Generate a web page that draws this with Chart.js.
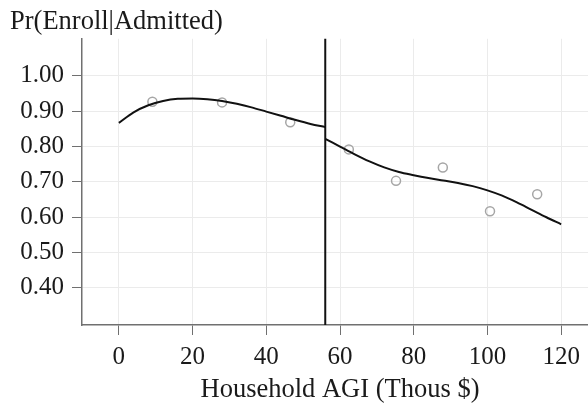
<!DOCTYPE html>
<html>
<head>
<meta charset="utf-8">
<script src="https://cdn.jsdelivr.net/npm/chart.js@4/dist/chart.umd.min.js"></script>
<style>
  html, body { margin:0; padding:0; background:#fff; overflow:hidden; }
  #wrap { width:588px; height:406px; overflow:hidden; }
</style>
</head>
<body>
<div id="wrap"><canvas id="c" width="598" height="406"></canvas></div>
<script>
// binned means
const binX = [9.1, 28.0, 46.5, 62.4, 75.2, 87.9, 100.7, 113.5];
const binY = [0.927, 0.925, 0.869, 0.792, 0.703, 0.741, 0.617, 0.665];

// fitted curve, below cutoff
const leftX = [0, 4, 8, 12, 16, 20, 24, 28, 32, 36, 40, 44, 48, 52, 56];
const leftY = [0.867, 0.897, 0.917, 0.929, 0.935, 0.936, 0.934, 0.929, 0.921, 0.911, 0.899, 0.887, 0.875, 0.864, 0.855];

// fitted curve, above cutoff
const rightX = [56, 60, 64, 68, 72, 76, 80, 84, 88, 92, 96, 100, 104, 108, 112, 116, 120];
const rightY = [0.822, 0.800, 0.778, 0.758, 0.741, 0.728, 0.719, 0.711, 0.704, 0.697, 0.688, 0.676, 0.661, 0.642, 0.621, 0.600, 0.580];

const cutoff = 56;
const xTicks = [0, 20, 40, 60, 80, 100, 120];
const yTicks = [0.40, 0.50, 0.60, 0.70, 0.80, 0.90, 1.00];

const FONT = "'Liberation Serif', 'Times New Roman', serif";
const TXT = '#1a1a1a';
const AXIS = '#707070';
const GRID = '#ebebeb';

const pts = (xs, ys) => xs.map((x, i) => ({ x, y: ys[i] }));

const cutoffLine = {
  id: 'cutoffLine',
  afterDatasetsDraw(chart) {
    const { ctx, chartArea, scales } = chart;
    const px = scales.x.getPixelForValue(cutoff);
    ctx.save();
    ctx.strokeStyle = '#111';
    ctx.lineWidth = 2;
    ctx.beginPath();
    ctx.moveTo(px, chartArea.top);
    ctx.lineTo(px, chartArea.bottom);
    ctx.stroke();
    ctx.restore();
  }
};

new Chart(document.getElementById('c'), {
  type: 'scatter',
  data: {
    datasets: [
      { data: pts(binX, binY), pointRadius: 4.5, pointBorderWidth: 1.5, pointBorderColor: '#a6a6a6', pointBackgroundColor: 'rgba(0,0,0,0)', order: 3 },
      { data: pts(leftX, leftY), showLine: true, borderColor: '#111', borderWidth: 2, pointRadius: 0, cubicInterpolationMode: 'monotone', order: 1 },
      { data: pts(rightX, rightY), showLine: true, borderColor: '#111', borderWidth: 2, pointRadius: 0, cubicInterpolationMode: 'monotone', order: 1 }
    ]
  },
  options: {
    responsive: false, animation: false, events: [],
    layout: { autoPadding: false, padding: { left: 10, right: 0, top: 0, bottom: 0 } },
    plugins: {
      legend: { display: false },
      tooltip: { enabled: false },
      title: { display: true, text: 'Pr(Enroll|Admitted)', align: 'start', color: TXT,
               font: { family: FONT, size: 26.5, weight: 'normal' }, padding: { top: 6, bottom: 1 } }
    },
    scales: {
      x: {
        type: 'linear', min: -10, max: 130,
        afterBuildTicks: s => { s.ticks = xTicks.map(v => ({ value: v })); },
        afterFit: s => { s.height = 81; s.paddingLeft = 0; s.paddingRight = 0; },
        grid: { color: GRID, tickColor: AXIS, tickLength: 10, drawTicks: true },
        border: { color: AXIS, width: 1.5 },
        ticks: { color: TXT, padding: 7, font: { family: FONT, size: 25 }, maxRotation: 0 },
        title: { display: true, text: 'Household AGI (Thous $)', color: TXT, font: { family: FONT, size: 26.5 }, padding: { top: 0, bottom: 0 } }
      },
      y: {
        type: 'linear', min: 0.295, max: 1.105,
        afterBuildTicks: s => { s.ticks = yTicks.map(v => ({ value: v })); },
        afterFit: s => { s.width = 72; s.paddingTop = 0; s.paddingBottom = 0; },
        grid: { color: GRID, tickColor: AXIS, tickLength: 10, drawTicks: true },
        border: { color: AXIS, width: 1.5 },
        ticks: { color: TXT, padding: 8, font: { family: FONT, size: 25 }, callback: v => v.toFixed(2) }
      }
    }
  },
  plugins: [cutoffLine]
});
</script>
</body>
</html>
